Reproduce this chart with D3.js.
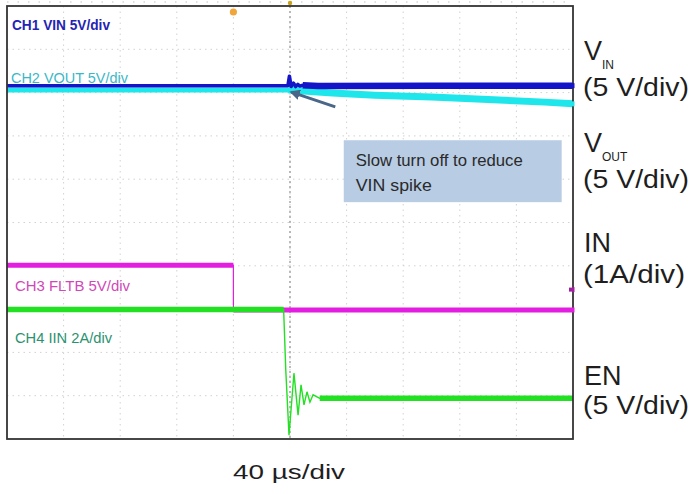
<!DOCTYPE html>
<html><head><meta charset="utf-8">
<script src="https://cdn.jsdelivr.net/npm/d3@7/dist/d3.min.js"></script>
<style>html,body{margin:0;padding:0;background:#fff;}svg{display:block;}</style>
</head><body>
<svg id="c" width="694" height="494"></svg>
<script>
// ---- data (time in µs, amplitude in scope divisions from bottom) ----
const timeDomain = [0, 400];          // 10 div x 40 µs/div
const divDomain = [0, 10];
const gridX = [0,40,80,120,160,200,240,280,320,360,400];
const gridY = [0,1,2,3,4,5,6,7,8,9,10];

const vinT = [0, 198.5, 199.6, 200.8, 202.5, 204, 205.5, 207, 209, 220, 300, 400];
const vinV = [8.16, 8.16, 8.38, 8.14, 8.22, 8.14, 8.19, 8.15, 8.17, 8.15, 8.16, 8.16];

const voutT = [0, 199, 230, 260, 300, 340, 380, 400];
const voutV = [8.06, 8.06, 7.99, 7.94, 7.90, 7.84, 7.78, 7.74];

const fltbT = [0, 160, 160, 400];
const fltbV = [4.01, 4.01, 2.98, 2.98];

const iinT = [0, 195.5, 197, 199.3, 202.8, 205.7, 207.8, 209.9, 212, 214.1, 216.3, 221, 400];
const iinV = [2.99, 2.99, 1.6, 0.09, 1.52, 0.55, 1.25, 0.79, 1.09, 0.85, 1.02, 0.94, 0.94];

const chLabels = ["CH1 VIN 5V/div", "CH2 VOUT 5V/div", "CH3 FLTB 5V/div", "CH4 IIN 2A/div"];
const sideLabels = ["(5 V/div)", "(5 V/div)", "(1A/div)", "(5 V/div)"];
const timeLabel = "40 µs/div";
const noteLines = ["Slow turn off to reduce", "VIN spike"];
const noteBox = {t0: 238, t1: 392, v0: 5.47, v1: 6.9};
const arrowFrom = {t: 232, v: 7.67};
const arrowTo = {t: 201, v: 8.01};
const triggerT = 160;

// ---- layout ----
const L = 7, R = 573, T = 6, B = 439;
const svg = d3.select("#c");
const x = d3.scaleLinear().domain(timeDomain).range([L, R]);
const y = d3.scaleLinear().domain(divDomain).range([B, T]);

const zip = (ts, vs) => ts.map((t, i) => [t, vs[i]]);
const line = d3.line().x(d => x(d[0])).y(d => y(d[1]));

// graticule
const g = svg.append("g");
g.selectAll(".gx").data(gridX.slice(1, -1)).join("line")
  .attr("x1", d => x(d)).attr("x2", d => x(d)).attr("y1", T).attr("y2", B)
  .attr("stroke", "#d2d2d2").attr("stroke-width", 1).attr("stroke-dasharray", "1.5,4");
g.selectAll(".gy").data(gridY.slice(1, -1)).join("line")
  .attr("x1", L).attr("x2", R).attr("y1", d => y(d)).attr("y2", d => y(d))
  .attr("stroke", "#d2d2d2").attr("stroke-width", 1).attr("stroke-dasharray", "1.5,4");
// top tick row
g.append("line").attr("x1", L).attr("x2", R).attr("y1", 2).attr("y2", 2)
  .attr("stroke", "#d6d6d6").attr("stroke-width", 1.5).attr("stroke-dasharray", "1.5,9");
// centre axis
g.append("line").attr("x1", x(200)).attr("x2", x(200)).attr("y1", T).attr("y2", B)
  .attr("stroke", "#9a9a9a").attr("stroke-width", 1.3).attr("stroke-dasharray", "2,3");
g.append("circle").attr("cx", x(200)).attr("cy", 3).attr("r", 2.2).attr("fill", "#c9a21a");
// trigger position marker
g.append("circle").attr("cx", x(triggerT)).attr("cy", 12).attr("r", 3.6).attr("fill", "#f0a63a");

// traces
function stepTrace(data, color, thick, thin) {
  svg.append("path").datum(data).attr("d", line).attr("fill", "none")
    .attr("stroke", color).attr("stroke-width", thin);
  const segs = [];
  for (let i = 0; i < data.length - 1; i++)
    if (data[i][1] === data[i + 1][1] && data[i][0] !== data[i + 1][0]) segs.push([data[i], data[i + 1]]);
  svg.selectAll(null).data(segs).join("path").attr("d", line).attr("fill", "none")
    .attr("stroke", color).attr("stroke-width", thick).attr("stroke-linecap", "butt");
}
const vout = zip(voutT, voutV);
svg.append("path").datum(vout).attr("d", line).attr("fill", "none")
  .attr("stroke", "#1ee6ea").attr("stroke-width", 5);
svg.append("path").datum(vout.filter(d => d[0] >= 199)).attr("d", line).attr("fill", "none")
  .attr("stroke", "#1ee6ea").attr("stroke-width", 7);
const vin = zip(vinT, vinV);
svg.append("path").datum(vin).attr("d", line).attr("fill", "none")
  .attr("stroke", "#1414c8").attr("stroke-width", 3.5).attr("stroke-linejoin", "round");
svg.append("path").datum(vin.filter(d => d[0] >= 209)).attr("d", line).attr("fill", "none")
  .attr("stroke", "#1414c8").attr("stroke-width", 6.5);
stepTrace(zip(fltbT, fltbV), "#e41ee0", 5, 1.2);
stepTrace(zip(iinT, iinV), "#22e022", 5.5, 1.4);

// channel level markers on right edge
svg.append("rect").attr("x", R - 4).attr("y", y(3.45) - 2).attr("width", 3).attr("height", 4).attr("fill", "#a01ea0");

// frame
svg.append("rect").attr("x", L).attr("y", T).attr("width", R - L).attr("height", B - T)
  .attr("fill", "none").attr("stroke", "#333").attr("stroke-width", 1.8);
const edgeMarks = [[vinV[vinV.length - 1], "#1414c8"], [voutV[voutV.length - 1], "#1ee6ea"],
                   [3.45, "#a01ea0"], [fltbV[fltbV.length - 1], "#e41ee0"]];
svg.selectAll(".em").data(edgeMarks).join("rect")
  .attr("x", R - 1).attr("y", d => y(d[0]) - 2.5).attr("width", 2.5).attr("height", 5)
  .attr("fill", d => d[1]);

// arrow
svg.append("defs").append("marker").attr("id", "ah").attr("viewBox", "0 0 10 10")
  .attr("refX", 8).attr("refY", 5).attr("markerWidth", 3.5).attr("markerHeight", 3.5)
  .attr("orient", "auto").append("path").attr("d", "M0,0L10,5L0,10z").attr("fill", "#4a6688");
svg.append("line").attr("x1", x(arrowFrom.t)).attr("y1", y(arrowFrom.v))
  .attr("x2", x(arrowTo.t)).attr("y2", y(arrowTo.v))
  .attr("stroke", "#4a6688").attr("stroke-width", 3).attr("marker-end", "url(#ah)");

// note box
svg.append("rect").attr("x", x(noteBox.t0)).attr("y", y(noteBox.v1))
  .attr("width", x(noteBox.t1) - x(noteBox.t0)).attr("height", y(noteBox.v0) - y(noteBox.v1))
  .attr("fill", "#b8cce4");
svg.selectAll(".nt").data(noteLines).join("text")
  .attr("x", x(noteBox.t0) + 12).attr("y", (d, i) => 166 + i * 25)
  .attr("font-family", "'Liberation Sans Narrow','Arial Narrow','Liberation Sans',sans-serif")
  .attr("font-size", 17).attr("fill", "#2a2a2a")
  .attr("textLength", (d, i) => i === 0 ? 167 : 76).attr("lengthAdjust", "spacingAndGlyphs")
  .text(d => d);

// channel labels
const chStyle = [
  {x: 12, y: 30, c: "#2424b4", w: 98, bold: 700},
  {x: 11, y: 83, c: "#3ab8c8", w: 117, bold: 400},
  {x: 15, y: 291, c: "#d048b8", w: 115, bold: 400},
  {x: 15, y: 343, c: "#2a9270", w: 97, bold: 400}
];
svg.selectAll(".ch").data(chLabels).join("text")
  .attr("x", (d, i) => chStyle[i].x).attr("y", (d, i) => chStyle[i].y)
  .attr("fill", (d, i) => chStyle[i].c).attr("font-weight", (d, i) => chStyle[i].bold)
  .attr("font-family", "'Liberation Sans',Arial,sans-serif").attr("font-size", 14)
  .attr("textLength", (d, i) => chStyle[i].w).attr("lengthAdjust", "spacingAndGlyphs")
  .text(d => d);

// right-hand labels
const rf = "'Liberation Sans',Arial,sans-serif";
const rl = svg.append("g").attr("font-family", rf).attr("fill", "#1e1e1e");
const t1 = rl.append("text").attr("x", 584).attr("y", 60).attr("font-size", 27);
t1.append("tspan").text("V");
t1.append("tspan").attr("font-size", 12).attr("dy", 9).text("IN");
const t2 = rl.append("text").attr("x", 584).attr("y", 152).attr("font-size", 27);
t2.append("tspan").text("V");
t2.append("tspan").attr("font-size", 12).attr("dy", 9).text("OUT");
rl.append("text").attr("x", 584).attr("y", 252).attr("font-size", 27).text("IN");
rl.append("text").attr("x", 584).attr("y", 385).attr("font-size", 27).text("EN");
const sideY = [96, 188, 283, 414];
rl.selectAll(".sl").data(sideLabels).join("text")
  .attr("x", 583).attr("y", (d, i) => sideY[i]).attr("font-size", 26)
  .attr("textLength", d => d === "(1A/div)" ? 102 : 106).attr("lengthAdjust", "spacingAndGlyphs")
  .text(d => d);

// time base
svg.append("text").attr("x", 233).attr("y", 479)
  .attr("font-family", rf).attr("font-size", 21).attr("fill", "#1e1e1e")
  .attr("textLength", 112).attr("lengthAdjust", "spacingAndGlyphs").text(timeLabel);
</script>
</body></html>
